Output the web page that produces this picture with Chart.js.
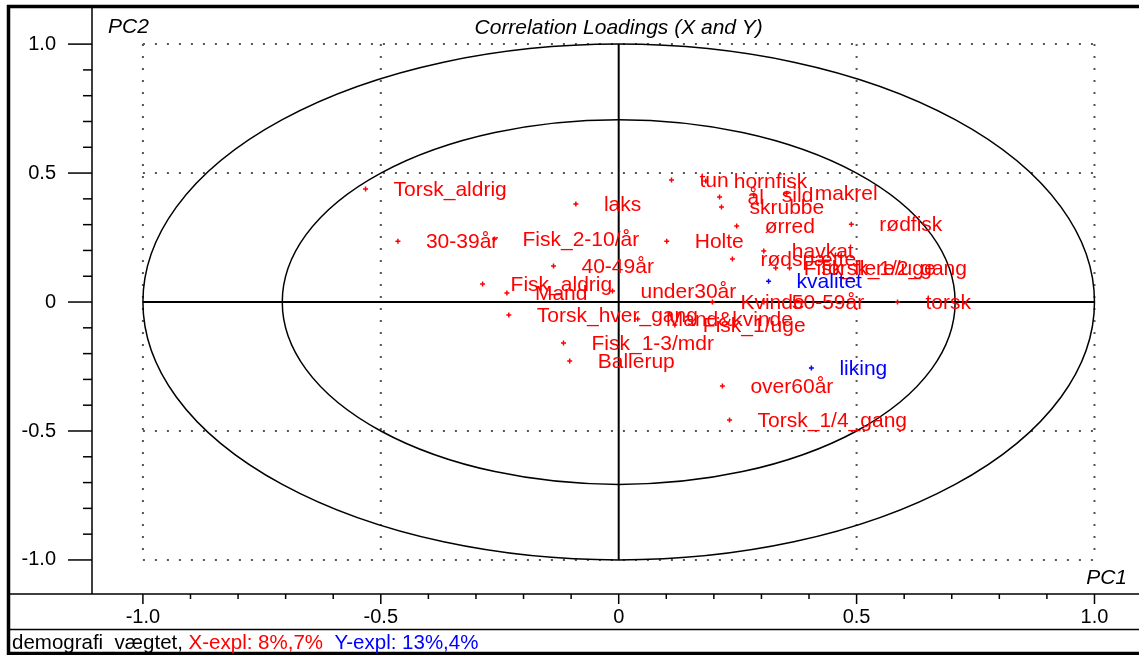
<!DOCTYPE html>
<html>
<head>
<meta charset="utf-8">
<script src="https://cdn.jsdelivr.net/npm/chart.js@4/dist/chart.umd.min.js"></script>
<style>
  html, body { margin: 0; padding: 0; background: #fff; }
  #wrap { width: 1139px; height: 655px; position: relative; }
</style>
</head>
<body>
<div id="wrap"><canvas id="loadings"></canvas></div>
<script>
// X variables (red)
const xNames = [
  "Torsk_aldrig", "30-39år", "Fisk_2-10/år", "laks", "40-49år", "Fisk_aldrig", "Mand",
  "under30år", "Torsk_hver_gang", "Fisk_1-3/mdr", "Ballerup", "tun", "hornfisk", "ål",
  "skrubbe", "sild", "makrel", "ørred", "rødfisk", "Holte", "havkat", "rødspætte",
  "Fisk_flere/uge", "Torsk_1/2_gang", "Kvinde", "50-59år", "torsk", "Mand&kvinde",
  "Fisk_1/uge", "over60år", "Torsk_1/4_gang"
];
const xPC1 = [
  -0.532, -0.464, -0.261, -0.090, -0.137, -0.286, -0.235,
  -0.013, -0.231, -0.116, -0.103, 0.111, 0.183, 0.212,
  0.216, 0.284, 0.353, 0.248, 0.489, 0.101, 0.305, 0.239,
  0.330, 0.359, 0.197, 0.305, 0.586, 0.040,
  0.118, 0.218, 0.233
];
const xPC2 = [
  0.438, 0.236, 0.244, 0.380, 0.140, 0.070, 0.035,
  0.043, -0.050, -0.159, -0.229, 0.473, 0.469, 0.407,
  0.368, 0.415, 0.422, 0.295, 0.302, 0.236, 0.198, 0.167,
  0.132, 0.132, 0.000, 0.000, 0.000, -0.066,
  -0.089, -0.326, -0.457
];

// Y variables (blue)
const yNames = ["kvalitet", "liking"];
const yPC1 = [0.315, 0.405];
const yPC2 = [0.081, -0.256];

// axes
const tickValues = [-1.0, -0.9, -0.8, -0.7, -0.6, -0.5, -0.4, -0.3, -0.2, -0.1, 0,
  0.1, 0.2, 0.3, 0.4, 0.5, 0.6, 0.7, 0.8, 0.9, 1.0];
const majorTicks = [-1.0, -0.5, 0, 0.5, 1.0];
const majorLabels = ["-1.0", "-0.5", "0", "0.5", "1.0"];
const gridLines = [-1.0, -0.5, 0.5, 1.0];

const titleText = "Correlation Loadings (X and Y)";
const footerParts = [
  ["demografi_vægtet, ", "#000000"],
  ["X-expl: 8%,7%", "#ff0000"],
  ["  Y-expl: 13%,4%", "#0000ff"]
];

const FONT = "'Liberation Sans', Arial, sans-serif";
const RED = "#ff0000";
const BLUE = "#0000ff";

const majorIndex = v => majorTicks.findIndex(m => Math.abs(m - v) < 1e-6);
const tickLabel = v => {
  const i = majorIndex(v);
  return i >= 0 ? majorLabels[i] : "";
};

const loadingsPlugin = {
  id: "loadings",
  beforeDatasetsDraw(chart) {
    const { ctx, scales: { x, y } } = chart;
    const x0 = x.getPixelForValue(0), y0 = y.getPixelForValue(0);
    const xl = x.getPixelForValue(-1), xr = x.getPixelForValue(1);
    const yt = y.getPixelForValue(1), yb = y.getPixelForValue(-1);
    ctx.save();

    // dotted grid
    ctx.strokeStyle = "#555";
    ctx.lineWidth = 2;
    ctx.setLineDash([2, 10]);
    gridLines.forEach(v => {
      const px = x.getPixelForValue(v);
      ctx.beginPath(); ctx.moveTo(px, yt); ctx.lineTo(px, yb); ctx.stroke();
      const py = y.getPixelForValue(v);
      ctx.beginPath(); ctx.moveTo(xl, py); ctx.lineTo(xr, py); ctx.stroke();
    });
    ctx.setLineDash([]);

    // ellipses: 100% and 50% explained variance
    ctx.strokeStyle = "#000";
    ctx.lineWidth = 1.5;
    [1, Math.SQRT1_2].forEach(r => {
      ctx.beginPath();
      ctx.ellipse(x0, y0, (xr - x0) * r, (y0 - yt) * r, 0, 0, Math.PI * 2);
      ctx.stroke();
    });

    // cross
    ctx.lineWidth = 2;
    ctx.beginPath(); ctx.moveTo(xl, y0); ctx.lineTo(xr, y0); ctx.stroke();
    ctx.beginPath(); ctx.moveTo(x0, yt); ctx.lineTo(x0, yb); ctx.stroke();
    ctx.restore();
  },
  afterDatasetsDraw(chart) {
    const { ctx, chartArea: a, scales: { x, y } } = chart;
    ctx.save();

    // point labels
    ctx.font = "21px " + FONT;
    ctx.textBaseline = "middle";
    ctx.textAlign = "left";
    const put = (names, px, py, color) => {
      ctx.fillStyle = color;
      names.forEach((n, i) => {
        ctx.fillText(n, x.getPixelForValue(px[i]) + 28, y.getPixelForValue(py[i]) + 1);
      });
    };
    put(xNames, xPC1, xPC2, RED);
    put(yNames, yPC1, yPC2, BLUE);

    // frame
    ctx.strokeStyle = "#000";
    ctx.lineWidth = 1.5;
    ctx.beginPath();
    ctx.moveTo(a.left, 8); ctx.lineTo(a.left, a.bottom);
    ctx.moveTo(10, a.bottom); ctx.lineTo(1139, a.bottom);
    ctx.moveTo(10, 629.5); ctx.lineTo(1139, 629.5);
    ctx.stroke();
    ctx.lineWidth = 3.5;
    ctx.beginPath();
    ctx.moveTo(8.5, 5); ctx.lineTo(8.5, 655);
    ctx.moveTo(7, 6.5); ctx.lineTo(1139, 6.5);
    ctx.moveTo(7, 653.5); ctx.lineTo(1139, 653.5);
    ctx.stroke();

    // tick marks
    ctx.lineWidth = 1.5;
    x.ticks.forEach(t => {
      const px = x.getPixelForValue(t.value);
      const len = majorIndex(t.value) >= 0 ? 10 : 5;
      ctx.beginPath(); ctx.moveTo(px, a.bottom); ctx.lineTo(px, a.bottom + len); ctx.stroke();
    });
    y.ticks.forEach(t => {
      const py = y.getPixelForValue(t.value);
      const len = majorIndex(t.value) >= 0 ? 24 : 9;
      ctx.beginPath(); ctx.moveTo(a.left, py); ctx.lineTo(a.left - len, py); ctx.stroke();
    });

    // titles
    ctx.fillStyle = "#000";
    ctx.font = "italic 21px " + FONT;
    ctx.textAlign = "center";
    ctx.fillText(titleText, x.getPixelForValue(0), 28);
    ctx.textAlign = "left";
    ctx.fillText("PC2", 108, 27);
    ctx.textAlign = "right";
    ctx.fillText("PC1", 1127, 578);

    // footer
    ctx.font = "20.5px " + FONT;
    ctx.textAlign = "left";
    let fx = 12;
    footerParts.forEach(([s, c]) => {
      ctx.fillStyle = c;
      ctx.fillText(s, fx, 643);
      fx += ctx.measureText(s).width;
    });
    ctx.restore();
  }
};

const setTicks = scale => { scale.ticks = tickValues.map(v => ({ value: v })); };

new Chart(document.getElementById("loadings"), {
  type: "scatter",
  data: {
    datasets: [
      {
        label: "X",
        data: xPC1.map((v, i) => ({ x: v, y: xPC2[i] })),
        pointStyle: "cross",
        pointRadius: 2.5,
        borderColor: RED,
        backgroundColor: RED,
        borderWidth: 1.5
      },
      {
        label: "Y",
        data: yPC1.map((v, i) => ({ x: v, y: yPC2[i] })),
        pointStyle: "cross",
        pointRadius: 2.5,
        borderColor: BLUE,
        backgroundColor: BLUE,
        borderWidth: 1.5
      }
    ]
  },
  options: {
    responsive: true,
    maintainAspectRatio: false,
    animation: false,
    events: [],
    layout: { padding: { left: 10, top: 8, right: 0, bottom: 26 } },
    scales: {
      x: {
        type: "linear",
        min: -1.107,
        max: 1.082,
        afterBuildTicks: setTicks,
        afterFit: s => { s.height = 35; s.paddingLeft = 0; s.paddingRight = 0; },
        grid: { display: false, drawTicks: false },
        border: { display: false },
        ticks: {
          callback: tickLabel,
          autoSkip: false,
          maxRotation: 0,
          padding: 11,
          color: "#000",
          font: { family: FONT, size: 20 }
        }
      },
      y: {
        type: "linear",
        min: -1.132,
        max: 1.14,
        afterBuildTicks: setTicks,
        afterFit: s => { s.width = 82; s.paddingTop = 0; s.paddingBottom = 0; },
        grid: { display: false, drawTicks: false },
        border: { display: false },
        ticks: {
          callback: tickLabel,
          autoSkip: false,
          padding: 36,
          color: "#000",
          font: { family: FONT, size: 20 }
        }
      }
    },
    plugins: {
      legend: { display: false },
      tooltip: { enabled: false }
    }
  },
  plugins: [loadingsPlugin]
});
</script>
</body>
</html>
